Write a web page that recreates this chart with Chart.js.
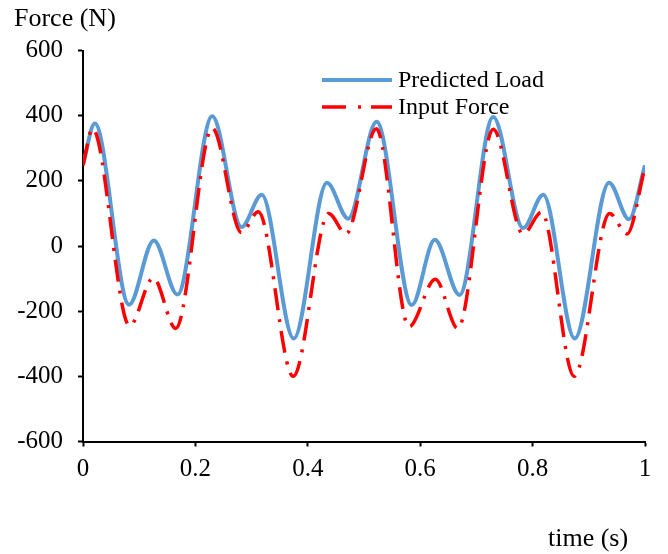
<!DOCTYPE html>
<html>
<head>
<meta charset="utf-8">
<script src="https://cdn.jsdelivr.net/npm/chart.js@4"></script>
<style>
    html, body { margin: 0; padding: 0; background: #fff; }
    #wrap { width: 668px; height: 554px; }
</style>
</head>
<body>
<div id="wrap"><canvas id="forceChart" width="668" height="554"></canvas></div>
<script>
// Predicted load (turning points of the curve)
const predTime = [0, 0.021, 0.082, 0.126, 0.168, 0.230, 0.282, 0.318, 0.375, 0.434, 0.472,
                  0.5225, 0.585, 0.626, 0.670, 0.730, 0.783, 0.819, 0.875, 0.936, 0.9715, 1.0];
const predForce = [250, 376, -180, 17, -149, 398, 58, 157, -284, 194, 84,
                   381, -181, 19, -150, 396, 55, 157, -284, 194, 82, 248];

// Input force
const inputTime = [0, 0.017, 0.083, 0.125, 0.165, 0.230, 0.282, 0.312, 0.374, 0.437, 0.468,
                   0.522, 0.580, 0.627, 0.667, 0.730, 0.783, 0.816, 0.874, 0.937, 0.968, 1.0];
const inputForce = [248, 360, -245, -98, -253, 362, 41, 105, -400, 100, 37,
                    360, -248, -102, -253, 358, 37, 104, -400, 100, 37, 242];

const xTicks = [0, 0.2, 0.4, 0.6, 0.8, 1];
const yTicks = [-600, -400, -200, 0, 200, 400, 600];

const seriesNames = ['Predicted Load', 'Input Force'];

const BLUE = '#5b9bd5';
const RED = '#ff0000';
const FONT = "'Liberation Serif', 'Times New Roman', serif";

const toPoints = (xs, ys) => xs.map((x, i) => ({ x: x, y: ys[i] }));

// plot box
const AREA = { left: 83, right: 645, top: 50.5, bottom: 441.5 };

// legend + axis titles drawn straight onto the canvas
const extras = {
    id: 'extras',
    afterDraw(chart) {
        const ctx = chart.ctx;
        ctx.save();
        ctx.font = '24px ' + FONT;
        ctx.fillStyle = '#000';
        ctx.textBaseline = 'middle';
        ctx.textAlign = 'left';

        // legend
        ctx.lineCap = 'butt';
        ctx.strokeStyle = BLUE;
        ctx.lineWidth = 4;
        ctx.beginPath();
        ctx.moveTo(322, 80);
        ctx.lineTo(392, 80);
        ctx.stroke();
        ctx.fillText(seriesNames[0], 398, 81);

        ctx.strokeStyle = RED;
        ctx.lineWidth = 3.5;
        ctx.setLineDash([24, 12, 3, 10]);
        ctx.beginPath();
        ctx.moveTo(322, 107);
        ctx.lineTo(392, 107);
        ctx.stroke();
        ctx.setLineDash([]);
        ctx.fillText(seriesNames[1], 398, 108);

        // axis titles
        ctx.font = '26px ' + FONT;
        ctx.fillText('Force (N)', 14, 19);
        ctx.fillText('time (s)', 548, 539);
        ctx.restore();
    }
};

new Chart(document.getElementById('forceChart'), {
    type: 'line',
    data: {
        datasets: [{
            label: seriesNames[0],
            data: toPoints(predTime, predForce),
            borderColor: BLUE,
            borderWidth: 4,
            pointRadius: 0,
            cubicInterpolationMode: 'monotone',
            fill: false,
            order: 2
        }, {
            label: seriesNames[1],
            data: toPoints(inputTime, inputForce),
            borderColor: RED,
            borderWidth: 3.5,
            borderDash: [22, 9, 3, 9],
            pointRadius: 0,
            cubicInterpolationMode: 'monotone',
            fill: false,
            order: 1
        }]
    },
    options: {
        responsive: false,
        animation: false,
        layout: {
            padding: { top: AREA.top, right: 668 - AREA.right, left: 0, bottom: 0 }
        },
        plugins: {
            legend: { display: false },
            tooltip: { enabled: false }
        },
        scales: {
            x: {
                type: 'linear',
                min: 0,
                max: 1,
                afterBuildTicks: scale => { scale.ticks = xTicks.map(v => ({ value: v })); },
                afterFit: scale => { scale.height = 554 - AREA.bottom; },
                ticks: {
                    color: '#000',
                    font: { family: FONT, size: 25 },
                    padding: 8,
                    maxRotation: 0,
                    callback: v => String(v)
                },
                grid: {
                    drawOnChartArea: false,
                    drawTicks: true,
                    tickLength: 5,
                    tickWidth: 2,
                    tickColor: '#000'
                },
                border: { color: '#000', width: 2 }
            },
            y: {
                type: 'linear',
                min: -600,
                max: 600,
                afterBuildTicks: scale => { scale.ticks = yTicks.map(v => ({ value: v })); },
                afterFit: scale => { scale.width = AREA.left; },
                ticks: {
                    color: '#000',
                    font: { family: FONT, size: 25 },
                    padding: 15,
                    callback: v => String(v)
                },
                grid: {
                    drawOnChartArea: false,
                    drawTicks: true,
                    tickLength: 5,
                    tickWidth: 2,
                    tickColor: '#000'
                },
                border: { color: '#000', width: 2 }
            }
        }
    },
    plugins: [extras]
});
</script>
</body>
</html>
